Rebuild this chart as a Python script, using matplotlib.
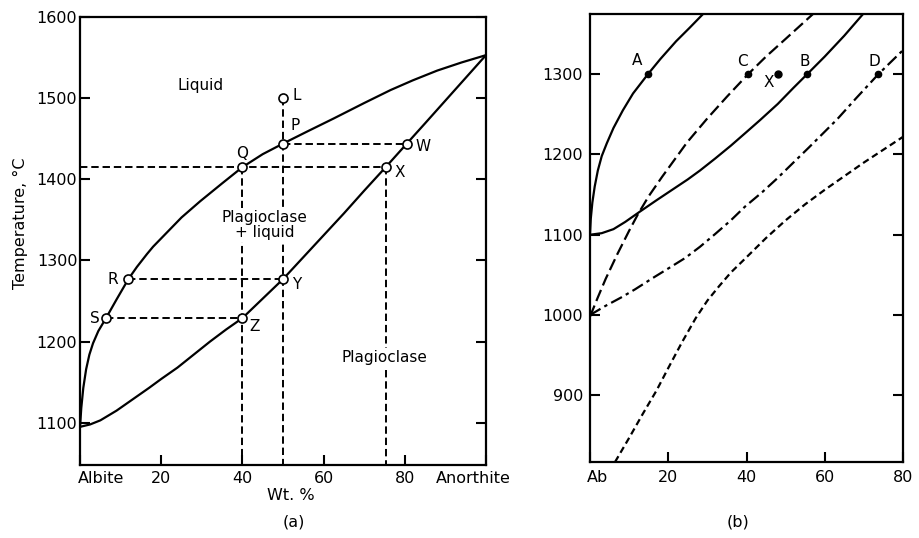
import numpy as np
import matplotlib.pyplot as plt
from matplotlib.transforms import ScaledTranslation

# ---------------------------------- data -------------------------------------
# (a) albite - anorthite, liquidus and solidus (wt. % An, deg C)
liq_x = [0, 0.3, 0.8, 1.5, 2.3, 3.2, 4.5, 6.4, 9, 11.9, 14, 16.5, 18, 21.5,
         25, 29.6, 35, 40, 45, 50, 56, 62.5, 70, 76.5, 82, 88, 94, 100]
liq_t = [1095, 1118, 1143, 1166, 1184, 1198, 1213, 1229, 1252, 1277, 1292,
         1308, 1317, 1335, 1353, 1373, 1395, 1415, 1431, 1444, 1459, 1475,
         1494, 1510, 1522, 1534, 1544, 1553]
sol_x = [0, 2.5, 5, 9, 13, 17, 20, 24, 28, 32, 36, 40, 45, 50, 55, 60, 65,
         70, 75.3, 80.5, 85, 90, 95, 100]
sol_t = [1095, 1098, 1103, 1115, 1129, 1143, 1154, 1168, 1184, 1200, 1215,
         1229, 1253, 1277, 1304, 1331, 1358, 1386, 1415, 1444, 1469, 1497,
         1525, 1553]

pt_names = ['L', 'P', 'Q', 'W', 'X', 'R', 'Y', 'S', 'Z']
pt_x = [50, 50, 40, 80.5, 75.3, 11.9, 50, 6.4, 40]
pt_t = [1500, 1444, 1415, 1444, 1415, 1277, 1277, 1229, 1229]

tie_pairs = [('P', 'W'), ('R', 'Y'), ('S', 'Z')]
drop_from = ['Q', 'L', 'X']
a_xticklabels = ['Albite', '20', '40', '60', '80', 'Anorthite']

# (b) curves
A_x = [0, 0.2, 0.6, 1.2, 2, 3, 4.3, 6, 8.4, 11, 14.8, 18, 22, 25.5, 28.9]
A_t = [1100, 1120, 1140, 1160, 1180, 1198, 1214, 1233, 1255, 1276, 1300,
       1319, 1341, 1358, 1375]
B_x = [0, 3, 6, 9, 12.8, 17, 21, 25, 28.1, 32, 36, 40, 43.5, 48, 52, 55.5,
       60, 65, 69.8]
B_t = [1100, 1102, 1107, 1116, 1129, 1143, 1156, 1169, 1180, 1195, 1211,
       1228, 1243, 1263, 1283, 1300, 1322, 1348, 1375]
C_x = [0, 2, 4, 7, 10, 12.3, 15, 18.4, 24.8, 30, 35, 40.4, 45, 50, 57]
C_t = [998, 1022, 1045, 1076, 1105, 1126, 1148, 1172, 1215, 1245, 1272, 1300,
       1322, 1344, 1375]
D_x = [0, 3.8, 8, 11.5, 16, 20, 24.3, 28.1, 32, 36, 39.6, 44, 47.8, 52, 56,
       63.2, 68, 73.7, 80]
D_t = [1000, 1011, 1022, 1032, 1046, 1058, 1071, 1085, 1101, 1118, 1135,
       1153, 1170, 1190, 1209, 1244, 1270, 1300, 1330]
E_x = [6.4, 10, 13.5, 17, 20, 23.5, 27, 30, 33, 36, 40, 45, 50, 55, 60, 65,
       70, 75, 80]
E_t = [817, 847, 877, 906, 934, 966, 996, 1018, 1036, 1053, 1072, 1096, 1118,
       1138, 1156, 1173, 1190, 1206, 1222]

b_names = ['A', 'C', 'B', 'D']
b_x = [14.8, 40.4, 55.5, 73.7]
b_t = [1300, 1300, 1300, 1300]
bx_x = 48.1
bx_t = 1300
b_xticklabels = ['Ab', '20', '40', '60', '80']

# -------------------------------- plotting -----------------------------------
plt.rcParams['font.family'] = 'DejaVu Sans'
fig = plt.figure(figsize=(9.19, 5.38), dpi=100)
ax = fig.add_axes([0.0871, 0.1357, 0.4417, 0.8327])
bx = fig.add_axes([0.642, 0.1413, 0.3406, 0.8327])

dash_a = (0, (3.8, 2.0))
lw = 1.6

# ---- (a)
ax.plot(liq_x, liq_t, c='k', lw=lw)
ax.plot(sol_x, sol_t, c='k', lw=lw)

P = dict(zip(pt_names, zip(pt_x, pt_t)))
ybot = 1048
# long tie line Q..X from the T axis
ax.plot([0, P['X'][0]], [P['Q'][1], P['X'][1]], c='k', lw=1.4, ls=dash_a)
for a, b in tie_pairs:
    ax.plot([P[a][0], P[b][0]], [P[a][1], P[b][1]], c='k', lw=1.4, ls=dash_a)
for n in drop_from:
    ax.plot([P[n][0], P[n][0]], [P[n][1], ybot], c='k', lw=1.4, ls=dash_a)

ax.plot(pt_x, pt_t, ls='none', marker='o', ms=6.5, mfc='white', mec='k',
        mew=1.2, zorder=5)

offs = {'L': (7, 2, 'left'), 'P': (9, 13, 'center'), 'Q': (0, 10, 'center'),
        'W': (12, -2, 'center'), 'X': (10, -4, 'center'),
        'R': (-11, 0, 'center'), 'Y': (10, -4, 'center'),
        'S': (-8, 0, 'center'), 'Z': (9, -6, 'center')}
for n, x, t in zip(pt_names, pt_x, pt_t):
    dx, dy, ha = offs[n]
    ax.annotate(n, (x, t), xytext=(dx, dy), textcoords='offset points',
                ha=ha, va='center', fontsize=11)

box = dict(fc='white', ec='none', pad=1.5)
ax.text(29.6, 1516, 'Liquid', ha='center', va='center', fontsize=11)
ax.text(45.4, 1344, 'Plagioclase\n+ liquid', ha='center', va='center',
        fontsize=11, linespacing=1.0, bbox=box, zorder=4)
ax.text(75, 1180, 'Plagioclase', ha='center', va='center', fontsize=11,
        bbox=box, zorder=4)

ax.set_xlim(0, 100)
ax.set_ylim(ybot, 1600)
ax.set_xticks([0, 20, 40, 60, 80, 100])
ax.set_xticklabels(a_xticklabels)
ax.set_yticks([1100, 1200, 1300, 1400, 1500, 1600])
ax.tick_params(direction='in', length=7, width=1.5, right=True,
               labelsize=11.5)
ax.tick_params(axis='y', pad=2)
ax.tick_params(axis='x', pad=4)
labs = ax.get_xticklabels()
labs[0].set_ha('left')
labs[0].set_transform(labs[0].get_transform()
                      + ScaledTranslation(-0.02, 0, fig.dpi_scale_trans))
labs[-1].set_transform(labs[-1].get_transform()
                       + ScaledTranslation(-0.13, 0, fig.dpi_scale_trans))
ax.set_xlabel('Wt. %', fontsize=11.5)
ax.xaxis.set_label_coords(0.519, -0.052)
ax.set_ylabel('Temperature, °C', fontsize=11.5)
ax.yaxis.set_label_coords(-0.128, 0.54)
ax.text(0.526, -0.127, '(a)', transform=ax.transAxes, ha='center',
        va='center', fontsize=11.5)
for s in ax.spines.values():
    s.set_linewidth(1.6)

# ---- (b)
bx.plot(A_x, A_t, c='k', lw=lw)
bx.plot(B_x, B_t, c='k', lw=lw)
bx.plot(C_x, C_t, c='k', lw=lw, ls=(0, (5.4, 2.2)))
bx.plot(D_x, D_t, c='k', lw=lw, ls=(0, (5.5, 2.0, 1.5, 2.0)))
bx.plot(E_x, E_t, c='k', lw=lw, ls=(0, (3.0, 1.8)))

bx.plot(b_x, b_t, ls='none', marker='o', ms=4.5, mfc='k', mec='k', zorder=5)
bx.plot([bx_x], [bx_t], ls='none', marker='o', ms=5, mfc='k', mec='k',
        zorder=5)
boffs = {'A': (-8, 10), 'C': (-4, 9), 'B': (-2, 9), 'D': (-3, 9)}
for n, x, t in zip(b_names, b_x, b_t):
    bx.annotate(n, (x, t), xytext=boffs[n], textcoords='offset points',
                ha='center', va='center', fontsize=11)
bx.annotate('X', (bx_x, bx_t), xytext=(-7, -6), textcoords='offset points',
            ha='center', va='center', fontsize=11)

bx.set_xlim(0, 80)
bx.set_ylim(817, 1375)
bx.set_xticks([0, 20, 40, 60, 80])
bx.set_xticklabels(b_xticklabels)
bx.set_yticks([900, 1000, 1100, 1200, 1300])
bx.tick_params(direction='in', length=7, width=1.5, right=True,
               labelsize=11.5)
bx.tick_params(axis='y', pad=5)
bx.tick_params(axis='x', pad=6)
blabs = bx.get_xticklabels()
blabs[0].set_transform(blabs[0].get_transform()
                       + ScaledTranslation(0.08, 0, fig.dpi_scale_trans))
bx.text(0.473, -0.134, '(b)', transform=bx.transAxes, ha='center',
        va='center', fontsize=11.5)
for s in bx.spines.values():
    s.set_linewidth(1.6)

fig.savefig('out.png', dpi=100)
